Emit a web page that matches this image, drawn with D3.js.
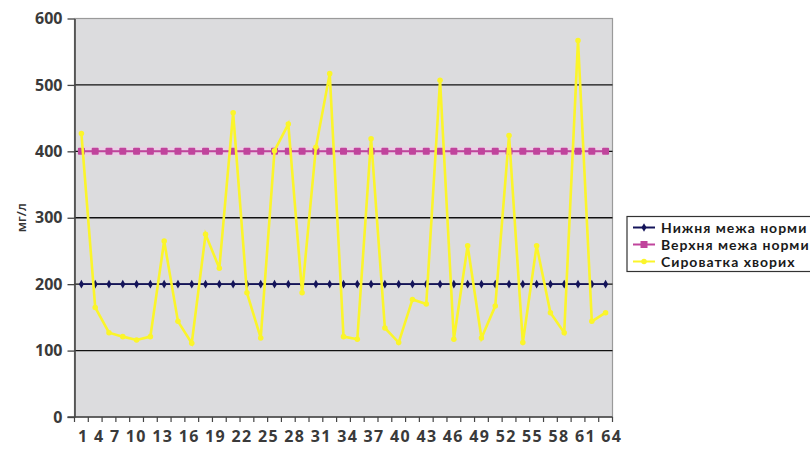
<!DOCTYPE html>
<html>
<head>
<meta charset="utf-8">
<script src="https://cdn.jsdelivr.net/npm/d3@7"></script>
<style>
  html, body { margin: 0; padding: 0; background: #ffffff; }
  svg { display: block; }
  text { font-family: "Open Sans", "Noto Sans", sans-serif; }
</style>
</head>
<body>
<svg id="chart" width="810" height="450"></svg>
<script>
// Serum measurements per patient and the reference range bounds (mg/l)
const serumValues = [427, 165, 127, 121, 116, 121, 265, 144, 111, 275,
                     224, 458, 187, 119, 401, 441, 187, 406, 517, 121,
                     117, 419, 134, 112, 177, 170, 507, 117, 258, 119,
                     167, 424, 112, 258, 157, 127, 567, 144, 157];
const lowerNorm = [200, 200, 200, 200, 200, 200, 200, 200, 200, 200,
                   200, 200, 200, 200, 200, 200, 200, 200, 200, 200,
                   200, 200, 200, 200, 200, 200, 200, 200, 200, 200,
                   200, 200, 200, 200, 200, 200, 200, 200, 200];
const upperNorm = [400, 400, 400, 400, 400, 400, 400, 400, 400, 400,
                   400, 400, 400, 400, 400, 400, 400, 400, 400, 400,
                   400, 400, 400, 400, 400, 400, 400, 400, 400, 400,
                   400, 400, 400, 400, 400, 400, 400, 400, 400];
const xTickLabels = ["1", "4", "7", "10", "13", "16", "19", "22", "25", "28", "31",
                     "34", "37", "40", "43", "46", "49", "52", "55", "58", "61", "64"];
const yTicks = [0, 100, 200, 300, 400, 500, 600];
const seriesNames = ["Нижня межа норми", "Верхня межа норми", "Сироватка хворих"];
const yTitle = "мг/л";

const svg = d3.select("#chart");
const plot = { left: 74.5, right: 612.5, top: 18.5, bottom: 417 };

const x = d3.scaleBand()
  .domain(d3.range(serumValues.length))
  .range([plot.left, plot.right])
  .paddingInner(0).paddingOuter(0);
const y = d3.scaleLinear().domain([0, 600]).range([plot.bottom, plot.top]);
const cx = i => x(i) + x.bandwidth() / 2;

// plot area
svg.append("rect")
  .attr("x", plot.left).attr("y", plot.top)
  .attr("width", plot.right - plot.left).attr("height", plot.bottom - plot.top)
  .attr("fill", "#dcdcde").attr("stroke", "#9a9a9a").attr("stroke-width", 1.2);

// horizontal gridlines
svg.append("g").selectAll("line")
  .data(yTicks.filter(v => v > 0 && v < 600))
  .join("line")
  .attr("x1", plot.left).attr("x2", plot.right)
  .attr("y1", d => y(d)).attr("y2", d => y(d))
  .attr("stroke", "#111").attr("stroke-width", 1.3);

// y axis
const yAxis = svg.append("g")
  .attr("transform", `translate(${plot.left},0)`)
  .call(d3.axisLeft(y).tickValues(yTicks).tickSize(7).tickSizeOuter(0).tickPadding(5));
yAxis.select(".domain").attr("stroke", "#444").attr("stroke-width", 1.6);
yAxis.selectAll(".tick line").attr("stroke", "#444").attr("stroke-width", 1.3);
yAxis.selectAll(".tick text")
  .attr("font-size", 16).attr("font-weight", 700).attr("fill", "#3a3a3a")
  .style("font-family", "'Open Sans', sans-serif");

// x axis line and tick marks at category boundaries
svg.append("line")
  .attr("x1", plot.left - 7).attr("x2", plot.right)
  .attr("y1", plot.bottom).attr("y2", plot.bottom)
  .attr("stroke", "#444").attr("stroke-width", 1.6);
const bounds = d3.range(serumValues.length + 1).map(i => plot.left + i * x.bandwidth());
svg.append("g").selectAll("line")
  .data(bounds)
  .join("line")
  .attr("x1", d => d).attr("x2", d => d)
  .attr("y1", plot.bottom).attr("y2", plot.bottom + 5)
  .attr("stroke", "#444").attr("stroke-width", 1.2);

// x tick labels as one spaced run
svg.append("text")
  .attr("x", 78).attr("y", 442)
  .attr("textLength", 543).attr("lengthAdjust", "spacing")
  .attr("font-size", 16).attr("font-weight", 700).attr("fill", "#3a3a3a")
  .text(xTickLabels.join(" "));

// y axis title
svg.append("text")
  .attr("transform", `translate(26,${(plot.top + plot.bottom) / 2}) rotate(-90)`)
  .attr("text-anchor", "middle")
  .attr("font-size", 13).attr("font-weight", 600).attr("fill", "#333")
  .text(yTitle);

const line = d3.line().x((d, i) => cx(i)).y(d => y(d));

// upper norm (magenta squares)
const upperColor = "#c0449c";
svg.append("path").datum(upperNorm)
  .attr("d", line).attr("fill", "none")
  .attr("stroke", "#f0c8e8").attr("stroke-width", 9).attr("opacity", 0.6);
svg.append("path").datum(upperNorm)
  .attr("d", line).attr("fill", "none")
  .attr("stroke", upperColor).attr("stroke-width", 2);
svg.append("g").selectAll("rect")
  .data(upperNorm).join("rect")
  .attr("x", (d, i) => cx(i) - 3.5).attr("y", d => y(d) - 3.5)
  .attr("width", 7).attr("height", 7).attr("rx", 1)
  .attr("fill", upperColor);

// lower norm (navy diamonds)
const lowerColor = "#14145a";
svg.append("path").datum(lowerNorm)
  .attr("d", line).attr("fill", "none")
  .attr("stroke", lowerColor).attr("stroke-width", 1.8);
const diamond = d3.symbol().type(d3.symbolDiamond).size(22);
svg.append("g").selectAll("path")
  .data(lowerNorm).join("path")
  .attr("d", diamond)
  .attr("transform", (d, i) => `translate(${cx(i)},${y(d)})`)
  .attr("fill", lowerColor);

// serum series (yellow)
const serumColor = "#fbf52a";
svg.append("path").datum(serumValues)
  .attr("d", line).attr("fill", "none")
  .attr("stroke", serumColor).attr("stroke-width", 2.6).attr("stroke-linejoin", "miter");
const dot = d3.symbol().type(d3.symbolCircle).size(24);
svg.append("g").selectAll("path")
  .data(serumValues).join("path")
  .attr("d", dot)
  .attr("transform", (d, i) => `translate(${cx(i)},${y(d)})`)
  .attr("fill", serumColor);

// legend
const lg = svg.append("g");
lg.append("rect")
  .attr("x", 627).attr("y", 216.5).attr("width", 200).attr("height", 55)
  .attr("fill", "#ffffff").attr("stroke", "#333").attr("stroke-width", 1.2);
const legendRows = [
  { name: seriesNames[0], color: lowerColor, shape: "diamond" },
  { name: seriesNames[1], color: upperColor, shape: "square" },
  { name: seriesNames[2], color: serumColor, shape: "circle" }
];
legendRows.forEach((r, i) => {
  const yy = 227.5 + i * 17;
  lg.append("line").attr("x1", 633).attr("x2", 655).attr("y1", yy).attr("y2", yy)
    .attr("stroke", r.color).attr("stroke-width", 2);
  if (r.shape === "square") {
    lg.append("rect").attr("x", 640.5).attr("y", yy - 3.5).attr("width", 7).attr("height", 7)
      .attr("fill", r.color);
  } else {
    lg.append("path")
      .attr("d", (r.shape === "diamond" ? diamond : dot)())
      .attr("transform", `translate(644,${yy})`).attr("fill", r.color);
  }
  lg.append("text").attr("x", 661).attr("y", yy + 5)
    .attr("font-size", 14).attr("font-weight", 700).attr("fill", "#1a1a1a")
    .attr("letter-spacing", 1.0)
    .style("font-family", "Lato, sans-serif")
    .text(r.name);
});
</script>
</body>
</html>
